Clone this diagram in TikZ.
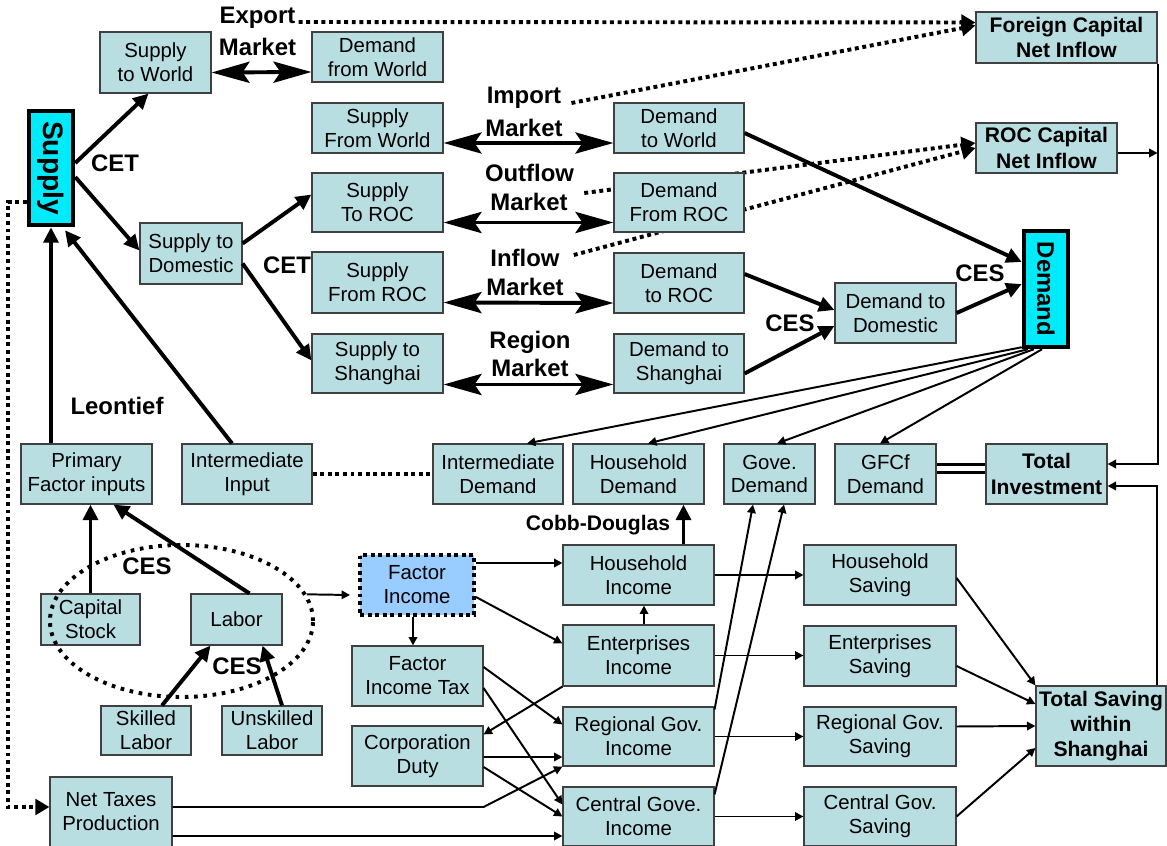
\documentclass[tikz,border=0pt]{standalone}
\usepackage{fontspec}
\setmainfont{Liberation Sans}
\usepackage{tikz}
\usetikzlibrary{shapes.geometric,arrows.meta,positioning,calc,backgrounds}
\definecolor{cellfill}{RGB}{184,222,226}
\definecolor{hubfill}{RGB}{0,235,250}
\definecolor{factorfill}{RGB}{153,204,255}
\newcommand{\cellfont}{\fontsize{14.5}{17}\selectfont}
\newcommand{\keyfont}{\fontsize{15}{18}\selectfont\bfseries}
\newcommand{\tagfont}{\fontsize{17}{19}\selectfont\bfseries}
\tikzset{
  cell/.style={draw=black!75,fill=cellfill,line width=0.8pt,inner sep=1pt,
    align=center,font=\cellfont},
  keycell/.style={cell,font=\keyfont},
  factorcell/.style={cell,fill=factorfill,draw=black,line width=2.8pt,
    dash pattern=on 2.8pt off 2.6pt},
  dims/.style 2 args={minimum width=#1*0.025cm,minimum height=#2*0.025cm},
  hub/.style={draw=black,fill=hubfill,line width=3.2pt,inner sep=0pt},
  tag/.style={inner sep=0pt,font=\tagfont},
  grouping/.style={ellipse,draw,line width=2.8pt,dash pattern=on 2.6pt off 4pt},
  strong/.style={-{Triangle[length=11pt,width=10.5pt]},line width=2.8pt},
  market/.style={<->,>={Stealth[length=27pt,width=15pt,inset=5pt]},line width=2.8pt},
  flow/.style={-{Triangle[length=6pt,width=6pt]},line width=1.4pt},
  capflow/.style={-{Triangle[length=10pt,width=11pt]},line width=2.8pt,
    dash pattern=on 2.8pt off 2.6pt},
  dotlink/.style={line width=2.8pt,dash pattern=on 2.8pt off 2.6pt},
  tie/.style={double,double distance=4pt,line width=2.2pt}
}

\begin{document}
\begin{tikzpicture}[x=0.025cm,y=-0.025cm]
  \useasboundingbox (0,0) rectangle (1167,846);
  % trade block
  \node[hub,dims={44}{114},font=\fontsize{20}{22}\selectfont\bfseries] (sup) at (51,168) {\rotatebox{-90}{Supply}};
  \node[cell,dims={111}{61}] (sw) at (155.5,62.5) {Supply\\to World};
  \node[cell,dims={102}{61}] (std) at (191,253.5) {Supply to\\Domestic};
  \node[cell,dims={131}{50}] (dfw) at (377.5,57) {Demand\\from World};
  \node[cell,dims={131}{50}] (sfw) at (377.5,128) {Supply\\From World};
  \node[cell,dims={131}{59}] (str) at (377.5,202.5) {Supply\\To ROC};
  \node[cell,dims={131}{61}] (sfr) at (377.5,282.5) {Supply\\From ROC};
  \node[cell,dims={131}{59}] (ssh) at (377.5,363.5) {Supply to\\Shanghai};
  \node[cell,dims={130}{50}] (dtw) at (679,128) {Demand\\to World};
  \node[cell,dims={130}{59}] (dfr) at (679,202.5) {Demand\\From ROC};
  \node[cell,dims={130}{60}] (dtr) at (679,283) {Demand\\to ROC};
  \node[cell,dims={130}{59}] (dts) at (679,363.5) {Demand to\\Shanghai};
  \node[cell,dims={121}{60}] (dtd) at (895.5,313) {Demand to\\Domestic};
  \node[hub,dims={44}{116},font=\fontsize{17}{19}\selectfont\bfseries] (dem) at (1046,289) {\rotatebox{-90}{Demand}};
  \node[keycell,dims={181}{51}] (fcn) at (1066.5,37.5) {Foreign Capital\\Net Inflow};
  \node[keycell,dims={141}{50}] (rcn) at (1046.5,148) {ROC Capital\\Net Inflow};
  % demand row
  \node[cell,dims={131}{60}] (pfi) at (86.5,474) {Primary\\Factor inputs};
  \node[cell,dims={130}{60}] (iin) at (247,474) {Intermediate\\Input};
  \node[cell,dims={130}{60}] (ind) at (498,474) {Intermediate\\Demand};
  \node[cell,dims={131}{60}] (hhd) at (638.5,474) {Household\\Demand};
  \node[cell,dims={91}{60}] (gvd) at (769.5,474) {Gove.\\Demand};
  \node[cell,dims={101}{60}] (gfd) at (885.5,474) {GFCf\\Demand};
  \node[keycell,dims={121}{60}] (tin) at (1046.5,474) {Total\\Investment};
  % factors
  \node[cell,dims={99}{51}] (cst) at (90.5,619.5) {Capital\\Stock};
  \node[cell,dims={91}{51}] (lab) at (236.5,619.5) {Labor};
  \node[cell,dims={90}{49}] (skl) at (146,730.5) {Skilled\\Labor};
  \node[cell,dims={100}{49}] (usk) at (272,730.5) {Unskilled\\Labor};
  \node[cell,dims={122}{70}] (ntp) at (111,812) {Net Taxes\\Production};
  \node[grouping,minimum width=6.575cm,minimum height=3.8cm] (factors) at (181.5,621) {};
  \node[factorcell,dims={114}{60}] (fin) at (417,585) {Factor\\Income};
  \node[cell,dims={131}{60}] (fit) at (417.5,676) {Factor\\Income Tax};
  \node[cell,dims={131}{60}] (cdu) at (417.5,756) {Corporation\\Duty};
  % incomes and savings
  \node[cell,dims={151}{60}] (hhi) at (638.5,575) {Household\\Income};
  \node[cell,dims={151}{61}] (eni) at (638.5,655.5) {Enterprises\\Income};
  \node[cell,dims={151}{59}] (rgi) at (638.5,736.5) {Regional Gov.\\Income};
  \node[cell,dims={151}{59}] (cgi) at (638.5,816.5) {Central Gove.\\Income};
  \node[cell,dims={152}{60}] (hhs) at (880,575) {Household\\Saving};
  \node[cell,dims={152}{60}] (ens) at (880,656) {Enterprises\\Saving};
  \node[cell,dims={152}{59}] (rgs) at (880,736.5) {Regional Gov.\\Saving};
  \node[cell,dims={152}{59}] (cgs) at (880,816.5) {Central Gov.\\Saving};
  \node[keycell,dims={130}{80}] (tsv) at (1101,726) {Total Saving\\within\\Shanghai};
  % labels
  \node[tag] (lbExport) at (257.5,18) {Export};
  \node[tag] (lbExportMk) at (257.5,47) {Market};
  \node[tag] (lbImport) at (524,98) {Import};
  \node[tag] (lbImportMk) at (524,128) {Market};
  \node[tag] (lbOutflow) at (529.5,173) {Outflow};
  \node[tag] (lbOutflowMk) at (529,202) {Market};
  \node[tag] (lbInflow) at (525,258) {Inflow};
  \node[tag] (lbInflowMk) at (525,287) {Market};
  \node[tag] (lbRegion) at (530,342) {Region};
  \node[tag] (lbRegionMk) at (530,368) {Market};
  \node[tag] (cetA) at (115,163) {CET};
  \node[tag] (cetB) at (287,265) {CET};
  \node[tag] (cesA) at (980,273) {CES};
  \node[tag] (cesB) at (790,323) {CES};
  \node[tag] (leon) at (117,406) {Leontief};
  \node[tag] (cesC) at (147,566) {CES};
  \node[tag] (cesD) at (237,666) {CES};
  \node[tag,font=\keyfont] (cobb) at (598,525) {Cobb-Douglas};
  % capital flows
  \begin{scope}[on background layer]
    \draw[capflow] ($(lbExport.east)+(3,4)$) -- ($(fcn.west)+(0,-15)$);
    \draw[capflow] ($(lbImport.east)+(10,5)$) -- ($(fcn.west)+(0,-12)$);
    \draw[capflow] ($(lbOutflow.east)+(10,20)$) -- ($(rcn.west)+(0,-5)$);
    \draw[capflow] ($(lbInflow.east)+(14,-3)$) -- (rcn.west);
  \end{scope}
  \draw[capflow] ($(sup.west)+(0,34)$) -- ++(-19,0) |- ($(ntp.west)+(0,-5)$);
  \draw[dotlink] (iin.east) -- (ind.west);
  % markets
  \draw[market] ($(sw.east)+(0,10)$) -- ($(dfw.west)+(0,15)$);
  \draw[market] ($(sfw.east)+(0,15)$) -- ($(dtw.west)+(0,15)$);
  \draw[market] ($(str.east)+(0,20)$) -- ($(dfr.west)+(0,20)$);
  \draw[market] ($(sfr.east)+(0,20)$) -- ($(dtr.west)+(0,20)$);
  \draw[market] ($(ssh.east)+(0,21)$) -- ($(dts.west)+(0,21)$);
  % nesting
  \draw[strong] ($(sup.east)+(0,-5)$) -- ($(sw.south)+(-7,0)$);
  \draw[strong] ($(sup.east)+(0,9)$) -- ($(std.west)+(0,-3)$);
  \draw[strong] ($(std.east)+(0,-10)$) -- ($(str.west)+(0,-8)$);
  \draw[strong] ($(std.east)+(0,10)$) -- ($(ssh.west)+(0,-3)$);
  \draw[strong] (sup.south |- pfi.north) -- (sup.south);
  \draw[strong] ($(iin.north)+(-15,0)$) -- ($(sup.south)+(14,3)$);
  \draw[strong] (cst.north) -- (cst.north |- pfi.south);
  \draw[strong] ($(lab.north)+(13,0)$) -- ($(pfi.south)+(27,0)$);
  \draw[strong] ($(skl.north)+(16,0)$) -- ($(lab.south)+(-26,0)$);
  \draw[strong] ($(usk.north)+(10,0)$) -- ($(lab.south)+(26,0)$);
  \draw[strong] ($(dtw.east)+(0,5)$) -- ($(dem.west)+(0,-27)$);
  \draw[strong] ($(dtr.east)+(0,-9)$) -- ($(dtd.west)+(0,-3)$);
  \draw[strong] ($(dts.east)+(0,10)$) -- ($(dtd.west)+(0,13)$);
  \draw[strong] (dtd.east) -- ($(dem.west)+(0,-5)$);
  \draw[strong] ($(hhi.north)+(45,0)$) -- ($(hhd.south)+(45,0)$);
  % final demand
  \draw[flow] ($(dem.south west)+(0,-2)$) -- ($(ind.north)+(29,0)$);
  \draw[flow] ($(dem.south west)+(6,0)$) -- ($(hhd.north)+(9.5,0)$);
  \draw[flow] ($(dem.south west)+(12,0)$) -- ($(gvd.north)+(7.5,0)$);
  \draw[flow] ($(dem.south)+(-4,0)$) -- ($(gfd.north)+(-5.5,0)$);
  \draw[tie] ($(gfd.east)+(0,-5.5)$) -- ($(tin.west)+(0,-5.5)$);
  \draw[flow] (fcn.south east) |- ($(tin.east)+(0,-10)$);
  \draw[flow] ($(rcn.east)+(0,5)$) -- ($(rcn.east -| fcn.south east)+(0,5)$);
  \draw[flow] ($(tsv.north east)+(-10,0)$) |- ($(tin.east)+(0,12)$);
  % income distribution
  \draw[flow] (factors.12) -- ($(fin.west)+(-8,10)$);
  \draw[flow] ($(fin.east)+(0,-22)$) -- ($(hhi.west)+(0,-12)$);
  \draw[flow] ($(fin.east)+(0,12)$) -- ($(eni.west)+(0,-12)$);
  \draw[flow] ($(fin.south)+(-4,0)$) -- ($(fit.north)+(-4.5,0)$);
  \draw[flow] ($(eni.north)+(5.5,0)$) -- ($(hhi.south)+(5.5,0)$);
  \draw[flow] (eni.south west) -- ($(cdu.north east)+(0,9)$);
  \draw[flow] ($(fit.east)+(0,-9)$) -- ($(rgi.west)+(0,-12)$);
  \draw[flow] ($(fit.east)+(0,12)$) -- ($(cgi.west)+(0,-12)$);
  \draw[flow] ($(cdu.east)+(0,1)$) -- ($(rgi.west)+(0,20.5)$);
  \draw[flow] ($(cdu.east)+(0,11)$) -- (cgi.west);
  \draw[flow] ($(ntp.east)+(0,-5)$) -- ($(cdu.east |- ntp.east)+(0,-5)$) -- (rgi.south west);
  \draw[flow] ($(ntp.east)+(0,24)$) -- ($(cgi.west)+(0,19.5)$);
  \draw[flow] ($(rgi.north east)+(0,3)$) -- ($(gvd.south)+(-16.5,0)$);
  \draw[flow] ($(cgi.north east)+(0,8)$) -- ($(gvd.south)+(14.5,0)$);
  % savings
  \draw[flow] (hhi.east) -- (hhs.west);
  \draw[flow] (eni.east) -- (eni.east -| ens.west);
  \draw[flow] (rgi.east) -- (rgs.west);
  \draw[flow] (cgi.east) -- (cgs.west);
  \draw[flow] ($(hhs.east)+(0,3)$) -- (tsv.north west);
  \draw[flow] ($(ens.east)+(0,10)$) -- ($(tsv.west)+(0,-22)$);
  \draw[flow] ($(rgs.east)+(0,-10)$) -- (tsv.west);
  \draw[flow] (cgs.east) -- ($(tsv.west)+(0,22)$);
\end{tikzpicture}
\end{document}
